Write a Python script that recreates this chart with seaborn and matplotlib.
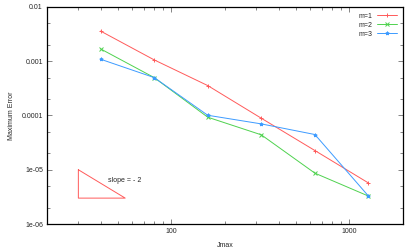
import matplotlib
matplotlib.use("Agg")
import matplotlib.pyplot as plt
import seaborn as sns
import pandas as pd
from matplotlib.ticker import LogLocator, FixedLocator, FixedFormatter, NullFormatter

jmax = [40, 80, 160, 320, 640, 1280]
err_m1 = [3.6e-3, 1.06e-3, 3.56e-4, 8.9e-5, 2.26e-5, 5.7e-6]
err_m2 = [1.69e-3, 5.0e-4, 9.3e-5, 4.4e-5, 8.65e-6, 3.27e-6]
err_m3 = [1.09e-3, 5.0e-4, 1.01e-4, 7.0e-5, 4.46e-5, 3.27e-6]
labels = ["m=1", "m=2", "m=3"]
colors = ["#ff5a5a", "#4fd24f", "#3d9bff"]
markers = ["+", "x", "*"]

tri_x = [30, 30, 55, 30]
tri_y = [1e-5, 3e-6, 3e-6, 1e-5]

sns.set_style("ticks")
plt.rcParams["font.family"] = ["Liberation Sans", "DejaVu Sans"]

fig = plt.figure(figsize=(4.15, 2.49), dpi=100)
ax = fig.add_axes([0.1133, 0.1004, 0.971 - 0.1133, 0.9719 - 0.1004])

for lab, ys, c, mk in zip(labels, [err_m1, err_m2, err_m3], colors, markers):
    df = pd.DataFrame({"Jmax": jmax, "err": ys})
    sns.lineplot(data=df, x="Jmax", y="err", ax=ax, color=c, marker=mk,
                 markersize=2.6, markeredgewidth=0.7, markeredgecolor=c,
                 linewidth=0.7, label=lab)

ax.plot(tri_x, tri_y, color="#ff5a5a", linewidth=0.7)
ax.text(44, 6.3e-6, "slope = - 2", fontsize=5, va="center", ha="left")

ax.set_xscale("log")
ax.set_yscale("log")
ax.set_xlim(20, 2000)
ax.set_ylim(1e-6, 1e-2)

ax.xaxis.set_major_locator(FixedLocator([100, 1000]))
ax.xaxis.set_major_formatter(FixedFormatter(["100", "1000"]))
ax.xaxis.set_minor_locator(LogLocator(base=10, subs=range(2, 10)))
ax.xaxis.set_minor_formatter(NullFormatter())
yt = [1e-6, 1e-5, 1e-4, 1e-3, 1e-2]
ax.yaxis.set_major_locator(FixedLocator(yt))
ax.yaxis.set_major_formatter(FixedFormatter(["1e-06", "1e-05", "0.0001", "0.001", "0.01"]))
ax.yaxis.set_minor_locator(LogLocator(base=10, subs=[2, 5]))
ax.yaxis.set_minor_formatter(NullFormatter())

ax.tick_params(which="both", direction="in", top=True, right=True, labelsize=5,
               width=0.5, color="#555555", pad=3)
ax.tick_params(which="major", length=3.5)
ax.tick_params(which="minor", length=2)
for s in ax.spines.values():
    s.set_linewidth(0.9)
    s.set_color("black")

ax.set_xlabel("Jmax", fontsize=5, labelpad=5)
ax.set_ylabel("Maximum Error", fontsize=5, labelpad=5)

leg = ax.legend(loc="upper right", frameon=False, fontsize=5, markerfirst=False,
                handlelength=3, borderaxespad=0.4, labelspacing=0.3, handletextpad=0.6)

fig.savefig("out.png", dpi=100)
